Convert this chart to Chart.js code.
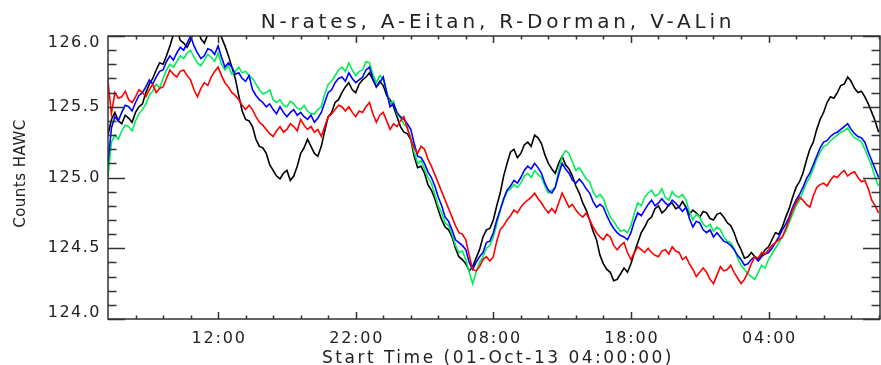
<!DOCTYPE html>
<html>
<head>
<meta charset="utf-8">
<script src="https://cdn.jsdelivr.net/npm/chart.js@4.4.1/dist/chart.umd.min.js"></script>
<style>
html,body{margin:0;padding:0;background:#fff;}
#wrap{width:881px;height:365px;}
</style>
</head>
<body>
<div id="wrap"><canvas id="c" width="881" height="365"></canvas></div>
<script>
// ---- data (hours after 01-Oct-13 04:00, sampled every 15 min) ----
const titleText = 'N-rates, A-Eitan, R-Dorman, V-ALin';
const xTitle = 'Start Time (01-Oct-13 04:00:00)';
const yTitle = 'Counts HAWC';
const xTickHours = [8, 18, 28, 38, 48];
const xTickLabels = ['12:00', '22:00', '08:00', '18:00', '04:00'];
const yTickValues = [124.0, 124.5, 125.0, 125.5, 126.0];

const seriesN = [
125.30,125.41,125.46,125.40,125.38,125.44,125.42,125.39,125.46,125.50,125.52,125.60,125.66,125.70,125.76,125.81,125.80,125.86,125.93,126.01,
126.05,125.97,125.95,125.92,125.97,126.04,126.06,125.98,125.95,126.01,126.04,126.08,126.03,125.99,125.93,125.86,125.78,125.70,125.58,125.47,
125.41,125.40,125.36,125.27,125.22,125.21,125.17,125.09,125.05,125.01,124.99,125.03,125.05,124.98,125.01,125.08,125.17,125.21,125.27,125.22,
125.17,125.15,125.22,125.33,125.43,125.46,125.53,125.55,125.60,125.64,125.67,125.62,125.60,125.66,125.69,125.71,125.74,125.69,125.64,125.68,
125.65,125.58,125.55,125.50,125.43,125.36,125.32,125.31,125.27,125.15,125.07,125.08,125.03,124.95,124.91,124.85,124.77,124.70,124.65,124.63,
124.58,124.50,124.44,124.42,124.39,124.34,124.37,124.43,124.49,124.58,124.63,124.64,124.70,124.80,124.89,125.01,125.10,125.18,125.20,125.14,
125.17,125.23,125.25,125.22,125.30,125.28,125.24,125.16,125.10,125.06,125.03,125.10,125.15,125.09,125.06,125.01,124.94,124.89,124.82,124.77,
124.70,124.62,124.56,124.45,124.39,124.35,124.33,124.27,124.28,124.32,124.36,124.33,124.39,124.47,124.54,124.61,124.65,124.70,124.72,124.78,
124.80,124.75,124.77,124.81,124.82,124.78,124.79,124.83,124.79,124.74,124.77,124.75,124.72,124.76,124.75,124.71,124.70,124.74,124.75,124.72,
124.68,124.66,124.61,124.54,124.49,124.43,124.44,124.47,124.44,124.42,124.45,124.49,124.51,124.56,124.61,124.60,124.65,124.72,124.78,124.86,
124.93,124.97,125.03,125.12,125.20,125.25,125.34,125.41,125.46,125.53,125.57,125.56,125.60,125.65,125.66,125.71,125.68,125.63,125.60,125.61,
125.57,125.52,125.46,125.40,125.32];

const seriesV = [
125.10,125.35,125.43,125.40,125.46,125.51,125.50,125.47,125.53,125.58,125.60,125.64,125.69,125.66,125.71,125.75,125.76,125.82,125.86,125.83,
125.88,125.92,125.90,125.95,126.00,125.93,125.88,125.84,125.86,125.91,125.90,125.87,125.93,125.85,125.78,125.81,125.78,125.73,125.74,125.70,
125.68,125.72,125.62,125.58,125.55,125.53,125.50,125.52,125.48,125.45,125.50,125.46,125.43,125.46,125.48,125.44,125.46,125.43,125.41,125.44,
125.39,125.42,125.46,125.53,125.60,125.62,125.67,125.70,125.71,125.68,125.74,125.70,125.67,125.69,125.71,125.76,125.78,125.70,125.64,125.67,
125.71,125.60,125.50,125.52,125.46,125.43,125.41,125.38,125.34,125.24,125.15,125.14,125.10,125.04,125.00,124.94,124.86,124.80,124.72,124.69,
124.63,124.56,124.54,124.52,124.49,124.40,124.35,124.40,124.44,124.47,124.54,124.55,124.61,124.70,124.77,124.85,124.91,124.94,124.98,124.96,
125.00,125.05,125.08,125.06,125.10,125.07,125.03,124.96,124.91,124.89,124.93,125.02,125.10,125.06,125.03,124.98,124.96,124.99,124.96,124.92,
124.89,124.83,124.79,124.81,124.79,124.73,124.68,124.64,124.61,124.59,124.58,124.56,124.61,124.69,124.75,124.73,124.77,124.81,124.84,124.80,
124.82,124.85,124.82,124.80,124.84,124.82,124.79,124.76,124.79,124.71,124.65,124.69,124.68,124.63,124.61,124.63,124.58,124.61,124.58,124.55,
124.54,124.52,124.49,124.45,124.42,124.38,124.39,124.42,124.44,124.41,124.44,124.46,124.47,124.50,124.54,124.58,124.63,124.67,124.72,124.79,
124.84,124.88,124.93,124.99,125.03,125.09,125.15,125.21,125.25,125.26,125.29,125.31,125.32,125.34,125.36,125.38,125.34,125.31,125.29,125.28,
125.25,125.18,125.12,125.06,125.00];

const seriesA = [
125.00,125.25,125.30,125.27,125.33,125.37,125.36,125.33,125.40,125.45,125.48,125.52,125.58,125.61,125.66,125.63,125.70,125.76,125.80,125.78,
125.82,125.86,125.84,125.88,125.90,125.85,125.81,125.79,125.83,125.87,125.85,125.82,125.88,125.80,125.76,125.79,125.73,125.75,125.78,125.74,
125.75,125.72,125.70,125.66,125.62,125.59,125.60,125.62,125.55,125.53,125.55,125.51,125.50,125.54,125.52,125.49,125.48,125.51,125.47,125.45,
125.45,125.48,125.50,125.59,125.66,125.68,125.72,125.76,125.78,125.75,125.81,125.76,125.72,125.75,125.76,125.82,125.81,125.73,125.67,125.72,
125.70,125.61,125.52,125.54,125.45,125.42,125.38,125.35,125.28,125.18,125.10,125.12,125.06,125.00,124.96,124.88,124.80,124.75,124.68,124.66,
124.60,124.52,124.47,124.48,124.42,124.33,124.25,124.33,124.40,124.44,124.50,124.52,124.58,124.67,124.77,124.84,124.90,124.92,124.95,124.93,
124.96,125.01,125.03,125.00,125.05,125.02,125.00,124.94,124.89,124.91,124.93,125.05,125.15,125.19,125.17,125.11,125.05,125.07,125.03,124.99,
124.97,124.90,124.86,124.88,124.85,124.78,124.72,124.69,124.65,124.62,124.63,124.61,124.66,124.75,124.82,124.80,124.86,124.89,124.91,124.87,
124.88,124.92,124.86,124.84,124.90,124.87,124.86,124.88,124.84,124.76,124.70,124.74,124.72,124.67,124.65,124.67,124.62,124.65,124.63,124.58,
124.55,124.54,124.50,124.43,124.38,124.35,124.32,124.30,124.28,124.33,124.38,124.36,124.42,124.46,124.50,124.54,124.58,124.62,124.68,124.74,
124.80,124.84,124.90,124.96,125.00,125.06,125.13,125.18,125.22,125.23,125.26,125.28,125.30,125.32,125.33,125.35,125.31,125.28,125.27,125.25,
125.20,125.14,125.08,125.00,124.94];

const seriesR = [
125.68,125.45,125.60,125.56,125.57,125.61,125.55,125.53,125.57,125.62,125.60,125.57,125.62,125.66,125.60,125.63,125.64,125.70,125.76,125.73,
125.71,125.75,125.76,125.72,125.69,125.62,125.57,125.63,125.67,125.65,125.71,125.75,125.78,125.72,125.67,125.64,125.60,125.58,125.55,125.51,
125.48,125.51,125.48,125.43,125.39,125.37,125.34,125.31,125.29,125.33,125.36,125.32,125.34,125.38,125.36,125.33,125.41,125.37,125.34,125.36,
125.32,125.34,125.29,125.36,125.43,125.45,125.48,125.51,125.50,125.47,125.50,125.46,125.43,125.47,125.46,125.50,125.53,125.45,125.39,125.44,
125.46,125.40,125.34,125.38,125.36,125.40,125.43,125.35,125.27,125.21,125.17,125.22,125.20,125.13,125.08,125.02,124.96,124.90,124.84,124.78,
124.72,124.66,124.61,124.60,124.56,124.45,124.35,124.34,124.37,124.42,124.44,124.41,124.44,124.55,124.63,124.66,124.70,124.73,124.77,124.75,
124.79,124.82,124.84,124.86,124.89,124.85,124.82,124.78,124.75,124.78,124.75,124.82,124.89,124.84,124.79,124.81,124.77,124.74,124.72,124.75,
124.70,124.65,124.61,124.58,124.56,124.60,124.58,124.52,124.49,124.52,124.54,124.47,124.42,124.47,124.51,124.49,124.47,124.50,124.47,124.45,
124.44,124.48,124.49,124.46,124.51,124.48,124.47,124.42,124.44,124.39,124.35,124.30,124.33,124.36,124.33,124.28,124.25,124.31,124.37,124.34,
124.35,124.38,124.33,124.29,124.25,124.28,124.33,124.39,124.44,124.43,124.47,124.46,124.49,124.52,124.54,124.56,124.58,124.64,124.70,124.77,
124.82,124.86,124.84,124.81,124.79,124.87,124.93,124.95,124.96,124.94,124.98,125.01,125.00,125.03,125.05,125.01,125.03,125.04,125.00,124.97,
124.98,124.92,124.84,124.80,124.75];

const sampleHours = seriesN.map((_, i) => i * 0.25);
const toPoints = arr => arr.map((v, i) => ({x: sampleHours[i], y: v}));

const FONT = '"DejaVu Sans", sans-serif';
const TXT = '#222';
const AXIS = '#333';

function isMajorY(v){ return Math.abs(v*2 - Math.round(v*2)) < 1e-6; }

const idlAxes = {
  id: 'idlAxes',
  afterDraw(chart){
    const {ctx, chartArea: a, scales: {x, y}} = chart;
    ctx.save();
    ctx.strokeStyle = AXIS; ctx.lineWidth = 1.5;
    ctx.strokeRect(a.left, a.top, a.right - a.left, a.bottom - a.top);
    ctx.beginPath();
    x.ticks.forEach(t => {
      const px = Math.round(x.getPixelForValue(t.value)) + 0.5;
      const len = xTickHours.includes(t.value) ? 7 : 3.5;
      ctx.moveTo(px, a.bottom); ctx.lineTo(px, a.bottom - len);
      ctx.moveTo(px, a.top); ctx.lineTo(px, a.top + len);
    });
    y.ticks.forEach(t => {
      const py = Math.round(y.getPixelForValue(t.value)) + 0.5;
      const len = isMajorY(t.value) ? 17 : 8.5;
      ctx.moveTo(a.left, py); ctx.lineTo(a.left + len, py);
      ctx.moveTo(a.right, py); ctx.lineTo(a.right - len, py);
    });
    ctx.stroke();

    ctx.fillStyle = TXT;
    ctx.font = '16px ' + FONT;
    ctx.letterSpacing = '1.8px';
    ctx.textAlign = 'center'; ctx.textBaseline = 'alphabetic';
    xTickHours.forEach((h, i) => {
      ctx.fillText(xTickLabels[i], x.getPixelForValue(h) + 1, 343);
    });
    ctx.letterSpacing = '1.5px';
    ctx.textAlign = 'right'; ctx.textBaseline = 'middle';
    yTickValues.forEach(v => {
      let py = y.getPixelForValue(v);
      py = Math.min(Math.max(py, a.top + 7), a.bottom - 6);
      ctx.fillText(v.toFixed(1), 101, py);
    });
    ctx.font = '20px ' + FONT;
    ctx.letterSpacing = '3.8px';
    ctx.textAlign = 'center'; ctx.textBaseline = 'alphabetic';
    ctx.fillText(titleText, (a.left + a.right) / 2 + 4, 28);
    ctx.font = '17px ' + FONT;
    ctx.letterSpacing = '2.5px';
    ctx.fillText(xTitle, (a.left + a.right) / 2 + 4, 363);
    ctx.font = '15px ' + FONT;
    ctx.letterSpacing = '0.5px';
    ctx.translate(21, (a.top + a.bottom) / 2 - 4);
    ctx.rotate(-Math.PI / 2);
    ctx.textBaseline = 'middle';
    ctx.fillText(yTitle, 0, 0);
    ctx.restore();
  }
};

const mk = (label, arr, color, order) => ({
  label, data: toPoints(arr), borderColor: color, backgroundColor: color,
  borderWidth: 1.6, pointRadius: 0, tension: 0, fill: false, order
});

new Chart(document.getElementById('c'), {
  type: 'line',
  data: {
    datasets: [
      mk('R-Dorman', seriesR, '#ff0000', 0),
      mk('V-ALin', seriesV, '#0000ff', 1),
      mk('A-Eitan', seriesA, '#00ee55', 2),
      mk('N-rates', seriesN, '#000000', 3)
    ]
  },
  options: {
    responsive: false,
    animation: false,
    devicePixelRatio: 1,
    layout: {padding: {top: 36, right: 1, left: 0, bottom: 0}},
    plugins: {legend: {display: false}, tooltip: {enabled: false}, title: {display: false}},
    scales: {
      x: {
        type: 'linear', min: 0, max: 56.1,
        grid: {display: false}, border: {display: false},
        ticks: {display: false},
        afterBuildTicks: s => {
          const t = [];
          for (let h = 2; h <= 56; h += 2) t.push({value: h});
          s.ticks = t;
        },
        afterFit: s => { s.height = 46; }
      },
      y: {
        type: 'linear', min: 124, max: 126,
        grid: {display: false}, border: {display: false},
        ticks: {display: false, stepSize: 0.1},
        afterFit: s => { s.width = 108; }
      }
    }
  },
  plugins: [idlAxes]
});
</script>
</body>
</html>
